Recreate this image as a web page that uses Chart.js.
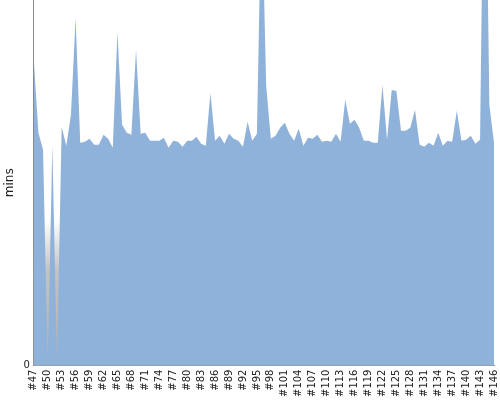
<!DOCTYPE html>
<html>
<head>
<meta charset="utf-8">
<script src="https://cdn.jsdelivr.net/npm/chart.js@4/dist/chart.umd.min.js"></script>
<style>
    html, body { margin: 0; padding: 0; background: #ffffff; }
    #chartContainer { width: 500px; height: 400px; }
</style>
</head>
<body>
<div id="chartContainer"><canvas id="buildChart"></canvas></div>
<script>
// builds #47 .. #146
const builds = [];
for (let n = 47; n <= 146; n++) builds.push('#' + n);

// build duration in minutes, one per build
const duracao = [
    30.6, 23.3, 21.6, 0, 22.1, 0, 23.9, 22.0, 25.1, 34.8,
    22.3, 22.4, 22.7, 22.1, 22.1, 23.1, 22.7, 21.8, 33.4, 24.1,
    23.3, 23.1, 31.6, 23.2, 23.3, 22.5, 22.5, 22.5, 22.8, 21.8,
    22.5, 22.4, 21.9, 22.5, 22.5, 22.9, 22.2, 22.0, 27.3, 22.5,
    23.0, 22.2, 23.2, 22.7, 22.5, 21.9, 24.4, 22.5, 23.2, 47.6,
    28.0, 22.7, 23.0, 23.8, 24.3, 23.2, 22.5, 23.7, 22.0, 22.8,
    22.7, 23.1, 22.4, 22.5, 22.4, 23.2, 22.4, 26.6, 24.2, 24.6,
    23.8, 22.5, 22.5, 22.3, 22.3, 28.1, 22.6, 27.6, 27.5, 23.5,
    23.5, 23.8, 25.6, 22.1, 21.9, 22.3, 22.0, 23.3, 22.0, 22.5,
    22.4, 25.5, 22.5, 22.6, 23.0, 22.2, 22.6, 61.6, 26.1, 22.3
];

const yMax = 36.6;
const yTicks = [0];

// soft grey shading at the bottom of the plot (shows in the narrow gaps)
const fundoPlot = {
    id: 'fundoPlot',
    beforeDatasetsDraw(chart) {
        const { ctx, chartArea } = chart;
        const g = ctx.createLinearGradient(0, chartArea.top + chartArea.height * 0.6, 0, chartArea.bottom);
        g.addColorStop(0, 'rgba(185,185,185,0)');
        g.addColorStop(0.35, 'rgba(185,185,185,0.85)');
        g.addColorStop(1, 'rgba(175,175,175,1)');
        ctx.save();
        ctx.fillStyle = g;
        ctx.fillRect(chartArea.left, chartArea.top, chartArea.right - chartArea.left, chartArea.bottom - chartArea.top);
        ctx.restore();
    }
};

// no extra room for the end labels, the plot runs edge to edge
function semPadding(scale) {
    scale.paddingTop = 0;
    scale.paddingBottom = 0;
    scale.paddingLeft = 0;
    scale.paddingRight = 0;
}

const ctx = document.getElementById('buildChart').getContext('2d');
new Chart(ctx, {
    type: 'line',
    data: {
        labels: builds,
        datasets: [{
            label: 'mins',
            data: duracao,
            fill: 'origin',
            backgroundColor: 'rgb(143,178,219)',
            borderColor: 'rgb(143,178,219)',
            borderWidth: 0,
            pointRadius: 0,
            tension: 0
        }]
    },
    options: {
        responsive: true,
        maintainAspectRatio: false,
        animation: false,
        layout: { padding: { top: 0, right: 6, left: 1, bottom: -1 } },
        scales: {
            x: {
                offset: false,
                afterFit: semPadding,
                grid: { display: false, drawTicks: false },
                border: { display: true, color: '#8a8a8a' },
                ticks: {
                    autoSkip: false,
                    minRotation: 90,
                    maxRotation: 90,
                    padding: 4,
                    color: '#222',
                    font: { size: 10, family: 'DejaVu Sans' },
                    callback: function (val, i) {
                        return i % 3 === 0 ? builds[i] : '';
                    }
                }
            },
            y: {
                min: 0,
                max: yMax,
                afterBuildTicks: function (scale) {
                    scale.ticks = yTicks.map(v => ({ value: v }));
                },
                afterFit: semPadding,
                grid: { display: false, drawTicks: false },
                border: { display: true, color: '#8a8a8a' },
                title: {
                    display: true,
                    text: 'mins',
                    color: '#222',
                    padding: { top: 2, bottom: 2 },
                    font: { size: 12, family: 'DejaVu Sans' }
                },
                ticks: {
                    color: '#222',
                    padding: 4,
                    font: { size: 10, family: 'DejaVu Sans' }
                }
            }
        },
        plugins: {
            legend: { display: false },
            tooltip: { enabled: false }
        }
    },
    plugins: [fundoPlot]
});
</script>
</body>
</html>
